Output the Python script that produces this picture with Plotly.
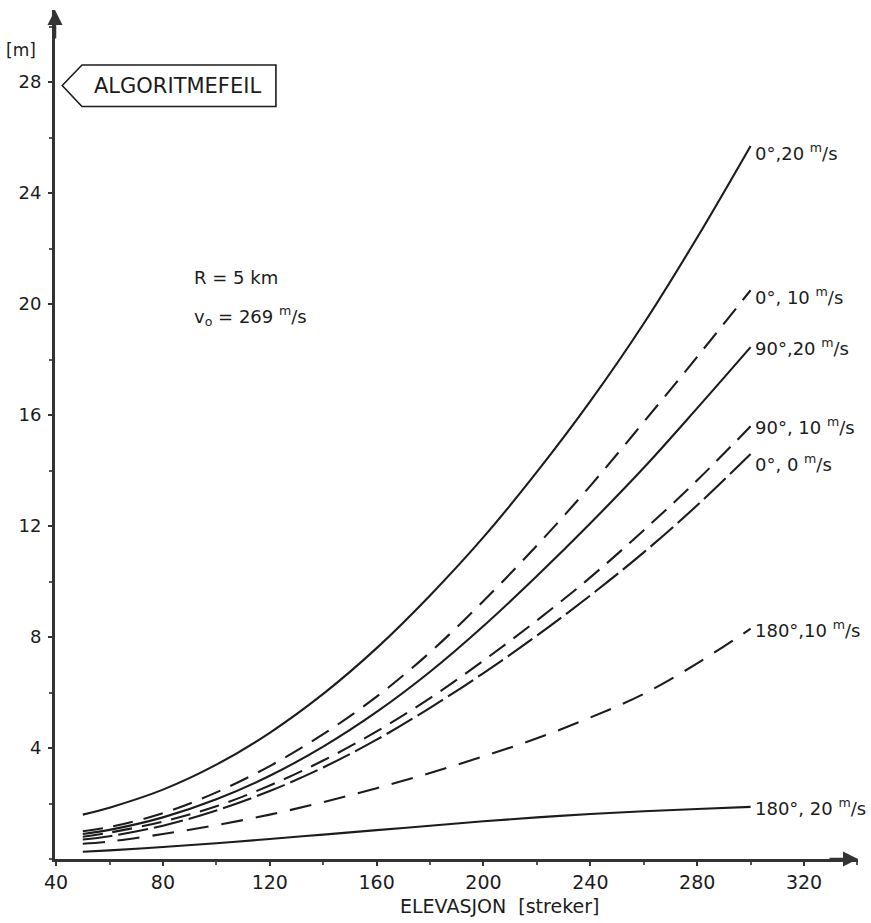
import plotly.graph_objects as go

# Elevation in mils (streker)
elevation = [50, 60, 80, 100, 120, 140, 160, 180, 200, 220, 240, 260, 280, 300]

# Deviation in metres for each wind direction / wind speed
dev_0_20 = [1.6, 1.85, 2.5, 3.4, 4.55, 5.95, 7.6, 9.5, 11.6, 13.95, 16.5, 19.3, 22.4, 25.7]
dev_0_10 = [1.0, 1.15, 1.65, 2.4, 3.35, 4.5, 5.85, 7.45, 9.3, 11.3, 13.45, 15.75, 18.1, 20.5]
dev_90_20 = [0.9, 1.05, 1.5, 2.15, 3.0, 4.05, 5.3, 6.75, 8.4, 10.2, 12.1, 14.1, 16.25, 18.45]
dev_90_10 = [0.8, 0.95, 1.35, 1.9, 2.65, 3.55, 4.6, 5.8, 7.15, 8.6, 10.15, 11.85, 13.65, 15.6]
dev_0_0 = [0.7, 0.82, 1.2, 1.75, 2.45, 3.3, 4.3, 5.45, 6.7, 8.05, 9.5, 11.05, 12.75, 14.6]
dev_180_10 = [0.55, 0.63, 0.9, 1.22, 1.6, 2.05, 2.55, 3.1, 3.7, 4.35, 5.1, 5.95, 7.05, 8.3]
dev_180_20 = [0.26, 0.31, 0.43, 0.57, 0.72, 0.88, 1.04, 1.2, 1.36, 1.5, 1.62, 1.72, 1.8, 1.88]

curve_labels = ["0°,20 <sup>m</sup>/s", "0°, 10 <sup>m</sup>/s", "90°,20 <sup>m</sup>/s",
                "90°, 10 <sup>m</sup>/s", "0°, 0 <sup>m</sup>/s", "180°,10 <sup>m</sup>/s",
                "180°, 20 <sup>m</sup>/s"]
curve_values = [dev_0_20, dev_0_10, dev_90_20, dev_90_10, dev_0_0, dev_180_10, dev_180_20]
curve_dash = ["solid", "20px,11px", "solid", "20px,10px", "30px,6px", "22px,13px", "solid"]
label_yshift = [-6, -6, 0, 0, -9, 0, 0]

x_ticks = [40, 80, 120, 160, 200, 240, 280, 320]
y_ticks = [4, 8, 12, 16, 20, 24, 28]

FONT = "DejaVu Sans, sans-serif"
INK = "#1c1c1c"

fig = go.Figure()

for vals, dash in zip(curve_values, curve_dash):
    fig.add_trace(go.Scatter(
        x=elevation, y=vals, mode="lines",
        line=dict(color=INK, width=2.1, dash=dash, shape="spline", smoothing=1.0),
        showlegend=False, hoverinfo="skip",
    ))

# curve labels at the right-hand end of each line
for label, vals, ys in zip(curve_labels, curve_values, label_yshift):
    fig.add_annotation(
        x=elevation[-1], y=vals[-1], text=label, showarrow=False,
        xanchor="left", yanchor="middle", xshift=2, yshift=ys,
        font=dict(family=FONT, size=18, color=INK),
    )

# parameter block
fig.add_annotation(x=0.171, y=0.7, xref="paper", yref="paper",
                   text="R = 5 km", showarrow=False, xanchor="left",
                   font=dict(family=FONT, size=18, color=INK))
fig.add_annotation(x=0.171, y=0.64, xref="paper", yref="paper",
                   text="v<sub>o</sub> = 269 <sup>m</sup>/s", showarrow=False, xanchor="left",
                   font=dict(family=FONT, size=18, color=INK))

# tag pointing at the 28 m mark
fig.add_shape(type="path", xref="x", yref="y",
              path="M 42.3,27.88 L 49.7,28.62 L 122.3,28.62 L 122.3,27.12 L 49.7,27.12 Z",
              line=dict(color=INK, width=1.6), fillcolor="rgba(0,0,0,0)")
fig.add_annotation(x=85.5, y=27.86, text="ALGORITMEFEIL", showarrow=False,
                   xanchor="center", yanchor="middle",
                   font=dict(family=FONT, size=21, color=INK))

# unit label on the vertical axis
fig.add_annotation(x=0, y=1, xref="paper", yref="paper", text="[m]",
                   showarrow=False, xanchor="right", yanchor="top",
                   xshift=-17, yshift=-28,
                   font=dict(family=FONT, size=17, color=INK))

# horizontal axis title
fig.add_annotation(x=206, y=0, xref="x", yref="paper", text="ELEVASJON  [streker]",
                   showarrow=False, xanchor="center", yanchor="middle", yshift=-47,
                   font=dict(family=FONT, size=19, color=INK))

# arrowheads at the ends of both axes
fig.add_annotation(x=0.0, y=1.0, xref="paper", yref="paper", ax=0, ay=30,
                   text="", showarrow=True, arrowhead=2, arrowsize=1.2,
                   arrowwidth=2.5, arrowcolor="#333333")
fig.add_annotation(x=1.0, y=0.0, xref="paper", yref="paper", ax=-30, ay=0,
                   text="", showarrow=True, arrowhead=2, arrowsize=1.2,
                   arrowwidth=2.5, arrowcolor="#333333")

fig.update_xaxes(
    range=[39.6, 340.2], showgrid=False, zeroline=False,
    showline=True, linecolor="#333333", linewidth=3,
    tickmode="array", tickvals=x_ticks, ticktext=[str(v) for v in x_ticks],
    ticks="outside", ticklen=4, tickwidth=1.5, tickcolor="#333333",
    tickfont=dict(family=FONT, size=19, color=INK),
    minor=dict(dtick=20, tick0=40, ticks="outside", ticklen=3, tickcolor="#555555"),
)
fig.update_yaxes(
    range=[0, 30.6], showgrid=False, zeroline=False,
    showline=True, linecolor="#333333", linewidth=3,
    tickmode="array", tickvals=y_ticks, ticktext=[str(v) for v in y_ticks],
    ticks="outside", ticklen=4, tickwidth=1.5, tickcolor="#333333",
    tickfont=dict(family=FONT, size=18, color=INK),
    minor=dict(dtick=2, tick0=0, ticks="outside", ticklen=3, tickcolor="#555555"),
    ticklabelstandoff=3,
)

fig.update_layout(
    width=871, height=923,
    margin=dict(l=55, r=13, t=10, b=64),
    paper_bgcolor="white", plot_bgcolor="white",
)

fig.write_html("out.html")
